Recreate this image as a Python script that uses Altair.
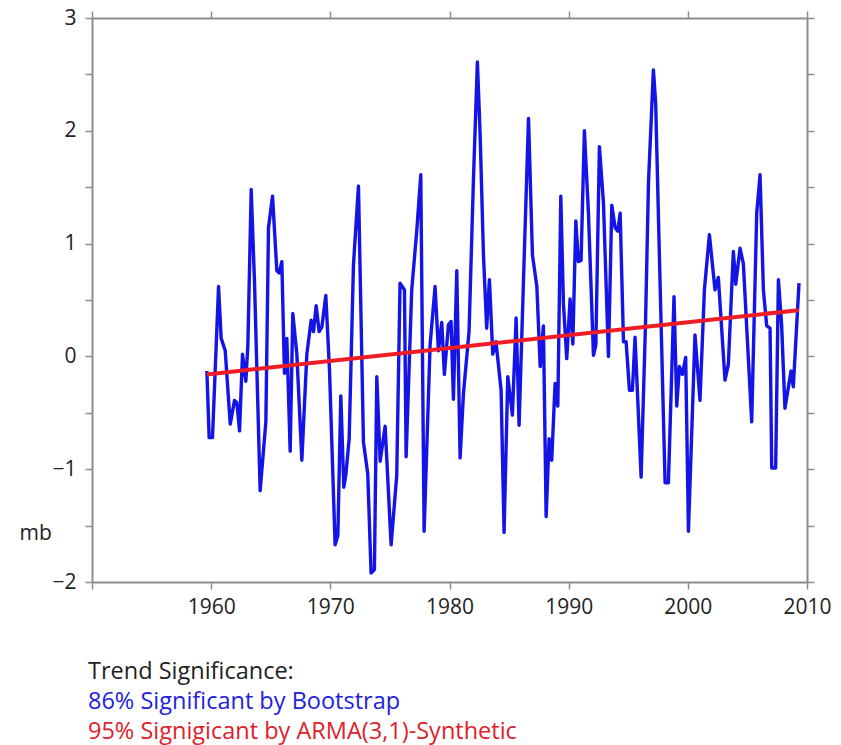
import altair as alt
import pandas as pd

# Seasonal pressure anomaly series (mb)
years = [
    1959.64, 1959.83, 1960.11, 1960.62, 1960.84, 1961.18, 1961.60, 1961.96, 1962.16, 1962.38,
    1962.63, 1962.91, 1963.08, 1963.36, 1963.64, 1964.11, 1964.59, 1964.81, 1965.15, 1965.51,
    1965.71, 1965.93, 1966.15, 1966.35, 1966.63, 1966.85, 1967.19, 1967.61, 1968.03, 1968.39,
    1968.59, 1968.81, 1969.06, 1969.29, 1969.62, 1969.93, 1970.40, 1970.63, 1970.88, 1971.13,
    1971.30, 1971.58, 1971.94, 1972.36, 1972.78, 1973.14, 1973.42, 1973.70, 1973.90, 1974.18,
    1974.60, 1975.10, 1975.57, 1975.85, 1976.22, 1976.36, 1976.83, 1977.25, 1977.59, 1977.87,
    1978.37, 1978.79, 1979.07, 1979.35, 1979.57, 1979.91, 1980.13, 1980.33, 1980.61, 1980.89,
    1981.17, 1981.64, 1982.01, 1982.34, 1982.57, 1982.85, 1983.12, 1983.35, 1983.63, 1983.90,
    1984.33, 1984.58, 1984.89, 1985.28, 1985.59, 1985.84, 1986.21, 1986.63, 1986.96, 1987.33,
    1987.61, 1987.88, 1988.11, 1988.36, 1988.58, 1988.86, 1989.09, 1989.34, 1989.56, 1989.84,
    1990.12, 1990.35, 1990.60, 1990.82, 1991.04, 1991.32, 1991.66, 1992.08, 1992.28, 1992.58,
    1992.92, 1993.34, 1993.62, 1993.90, 1994.12, 1994.32, 1994.60, 1994.82, 1995.10, 1995.35,
    1995.57, 1996.08, 1996.45, 1996.70, 1997.11, 1997.30, 1997.67, 1998.09, 1998.37, 1998.84,
    1999.07, 1999.29, 1999.54, 1999.82, 2000.05, 2000.60, 2001.02, 2001.39, 2001.81, 2002.28,
    2002.56, 2003.12, 2003.40, 2003.82, 2004.02, 2004.38, 2004.66, 2005.36, 2005.78, 2006.06,
    2006.34, 2006.62, 2006.90, 2007.04, 2007.37, 2007.60, 2007.87, 2008.15, 2008.66, 2008.85,
    2009.33,
]
values = [
    -0.13, -0.72, -0.72, 0.62, 0.16, 0.05, -0.60, -0.39, -0.41, -0.66,
    0.02, -0.22, 0.10, 1.48, 0.65, -1.19, -0.58, 1.14, 1.42, 0.76,
    0.74, 0.84, -0.15, 0.16, -0.84, 0.38, 0.02, -0.92, 0.02, 0.32,
    0.22, 0.45, 0.22, 0.26, 0.54, -0.12, -1.67, -1.59, -0.35, -1.16,
    -1.05, -0.73, 0.81, 1.51, -0.76, -1.04, -1.92, -1.89, -0.18, -0.93,
    -0.62, -1.67, -1.06, 0.65, 0.59, -0.89, 0.59, 1.11, 1.61, -1.55,
    0.10, 0.62, 0.05, 0.30, -0.16, 0.28, 0.31, -0.38, 0.76, -0.90,
    -0.33, 0.22, 1.57, 2.61, 1.97, 0.90, 0.25, 0.68, 0.02, 0.13,
    -0.30, -1.56, -0.18, -0.52, 0.34, -0.61, 0.68, 2.11, 0.90, 0.62,
    -0.09, 0.27, -1.42, -0.73, -0.92, -0.24, -0.44, 1.42, 0.47, -0.02,
    0.51, 0.11, 1.20, 0.84, 0.85, 2.00, 1.27, 0.01, 0.10, 1.86,
    1.36, 0.00, 1.34, 1.14, 1.11, 1.27, 0.13, 0.13, -0.30, -0.30,
    0.17, -1.07, 0.30, 1.55, 2.54, 2.25, 0.65, -1.12, -1.12, 0.53,
    -0.44, -0.09, -0.16, -0.01, -1.55, 0.19, -0.39, 0.59, 1.08, 0.59,
    0.70, -0.21, -0.07, 0.93, 0.64, 0.96, 0.82, -0.58, 1.27, 1.61,
    0.59, 0.27, 0.25, -0.99, -0.99, 0.68, 0.28, -0.46, -0.13, -0.27,
    0.65,
]

# Linear trend endpoints
trend_years = [1959.64, 2009.30]
trend_values = [-0.16, 0.41]

# Axis ticks
x_ticks = [1950, 1960, 1970, 1980, 1990, 2000, 2010]
y_ticks = [-2, -1.5, -1, -0.5, 0, 0.5, 1, 1.5, 2, 2.5, 3]

# Footnote lines and their colours
note_lines = [
    "Trend Significance:",
    "86% Significant by Bootstrap",
    "95% Signigicant by ARMA(3,1)-Synthetic",
]
note_colors = ["#222222", "#2222dd", "#e0202a"]

FONT = "Open Sans"
AXIS_GRAY = "#8c8c8c"

series = pd.DataFrame({"year": years, "mb": values})
trend = pd.DataFrame({"year": trend_years, "mb": trend_values})

x_scale = alt.Scale(domain=[1950, 2010], nice=False, zero=False)
y_scale = alt.Scale(domain=[-2, 3], nice=False, zero=False)

common_axis = dict(
    domainColor=AXIS_GRAY,
    domainWidth=2,
    tickColor=AXIS_GRAY,
    tickWidth=1.5,
    tickSize=7,
    grid=False,
    labelFont=FONT,
    labelFontSize=21,
    labelColor="#222222",
    labelFlush=False,
)

line = alt.Chart(series).mark_line(color="#1414e6", strokeWidth=3.4, strokeJoin="round").encode(
    x=alt.X(
        "year:Q",
        scale=x_scale,
        axis=alt.Axis(
            orient="bottom",
            values=x_ticks,
            format="d",
            labelExpr="datum.value == 1950 ? '' : datum.label",
            labelPadding=7,
            title=None,
            **common_axis,
        ),
    ),
    y=alt.Y(
        "mb:Q",
        scale=y_scale,
        axis=alt.Axis(
            orient="left",
            values=y_ticks,
            format=".0f",
            labelExpr="datum.value % 1 == 0 ? datum.label : ''",
            labelPadding=9,
            title="mb",
            titleAngle=0,
            titleAlign="left",
            titleBaseline="middle",
            titleX=-73,
            titleY=515,
            titleFont=FONT,
            titleFontSize=21,
            titleFontWeight="normal",
            titleColor="#222222",
            **common_axis,
        ),
    ),
)

trend_line = alt.Chart(trend).mark_line(color="#ee1c24", strokeWidth=4).encode(
    x=alt.X(
        "year:Q",
        scale=x_scale,
        axis=alt.Axis(orient="top", values=x_ticks, labels=False, title=None, **common_axis),
    ),
    y=alt.Y(
        "mb:Q",
        scale=y_scale,
        axis=alt.Axis(orient="right", values=y_ticks, labels=False, title=None, **common_axis),
    ),
)

notes = [
    alt.Chart(pd.DataFrame({"t": [txt]})).mark_text(
        align="left", baseline="alphabetic", font=FONT, fontSize=23.5, color=col
    ).encode(text="t:N", x=alt.value(-4), y=alt.value(661 + 30 * i))
    for i, (txt, col) in enumerate(zip(note_lines, note_colors))
]

chart = (
    alt.layer(line, trend_line, *notes)
    .resolve_axis(x="independent", y="independent")
    .properties(
        width=715,
        height=564,
        autosize=alt.AutoSizeParams(type="none"),
        padding={"left": 92, "top": 18, "right": 34, "bottom": 163},
        background="white",
    )
    .configure_view(stroke=None)
)

chart.save("out.html", embed_options={"renderer": "svg", "actions": False})
